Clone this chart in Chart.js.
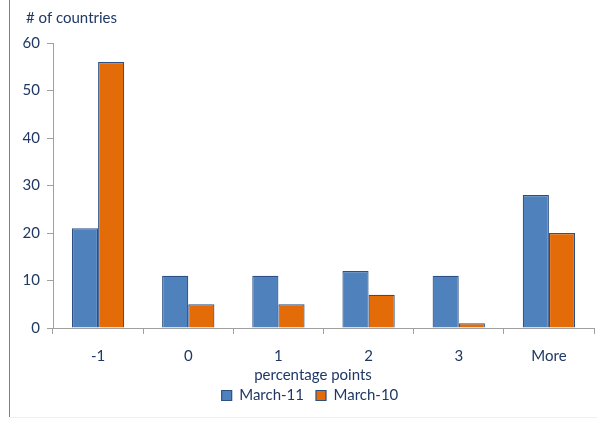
<!DOCTYPE html>
<html>
<head>
<meta charset="utf-8">
<script src="https://cdn.jsdelivr.net/npm/chart.js@4"></script>
<style>
  html, body { margin: 0; padding: 0; background: #fff; }
  #wrap { width: 597px; height: 425px; position: relative; }
</style>
</head>
<body>
<div id="wrap"><canvas id="chart"></canvas></div>
<script>
const categories = ['-1', '0', '1', '2', '3', 'More'];
const march11 = [21, 11, 11, 12, 11, 28];
const march10 = [56, 5, 5, 7, 1, 20];
const yTicks = [0, 10, 20, 30, 40, 50, 60];

const textColor = '#1F3864';
const axisColor = '#A0A0A0';
const fontFamily = 'Lato, "Open Sans", sans-serif';

// frame line, y caption, x caption; legend nudged right like the original
const decor = {
  id: 'decor',
  afterLayout(chart) {
    if (chart.legend) {
      chart.legend.left += 13;
      chart.legend.right += 13;
    }
  },
  afterDraw(chart) {
    const ctx = chart.ctx;
    ctx.save();
    ctx.strokeStyle = '#808080';
    ctx.lineWidth = 1;
    ctx.beginPath();
    ctx.moveTo(9.5, 0);
    ctx.lineTo(9.5, 417);
    ctx.stroke();
    ctx.strokeStyle = '#EEEEEE';
    ctx.beginPath();
    ctx.moveTo(10, 417.5);
    ctx.lineTo(597, 417.5);
    ctx.stroke();
    ctx.fillStyle = textColor;
    ctx.font = '15px ' + fontFamily;
    ctx.textBaseline = 'middle';
    ctx.textAlign = 'left';
    ctx.fillText('# of countries', 26, 18);
    ctx.textAlign = 'center';
    ctx.fillText('percentage points', 313, 375);
    ctx.restore();
  }
};

new Chart(document.getElementById('chart'), {
  type: 'bar',
  data: {
    labels: categories,
    datasets: [
      {
        label: 'March-11',
        data: march11,
        backgroundColor: '#4F81BD',
        borderColor: '#2C4F86',
        borderWidth: 1.2,
        categoryPercentage: 0.58,
        barPercentage: 1.0
      },
      {
        label: 'March-10',
        data: march10,
        backgroundColor: '#E36C09',
        borderColor: '#2C4F86',
        borderWidth: 1.2,
        categoryPercentage: 0.58,
        barPercentage: 1.0
      }
    ]
  },
  options: {
    responsive: true,
    maintainAspectRatio: false,
    animation: false,
    layout: { padding: { top: 43, right: 3, left: 0, bottom: 12 } },
    plugins: {
      tooltip: { enabled: false },
      legend: {
        position: 'bottom',
        labels: {
          color: textColor,
          font: { family: fontFamily, size: 15 },
          boxWidth: 10,
          boxHeight: 10,
          padding: 12
        }
      }
    },
    scales: {
      x: {
        grid: {
          offset: true,
          drawOnChartArea: false,
          drawTicks: true,
          tickLength: 6,
          color: axisColor
        },
        border: { color: axisColor, width: 1 },
        ticks: {
          color: textColor,
          font: { family: fontFamily, size: 15 },
          padding: 13
        },
        afterFit(scale) { scale.height = 48; }
      },
      y: {
        min: 0,
        max: 60,
        afterBuildTicks(scale) { scale.ticks = yTicks.map((v) => ({ value: v })); },
        grid: {
          drawOnChartArea: false,
          drawTicks: true,
          tickLength: 6,
          color: axisColor
        },
        border: { color: axisColor, width: 1 },
        ticks: {
          color: textColor,
          font: { family: fontFamily, size: 15 },
          padding: 7
        },
        afterFit(scale) { scale.width = 53; }
      }
    }
  },
  plugins: [decor]
});
</script>
</body>
</html>
